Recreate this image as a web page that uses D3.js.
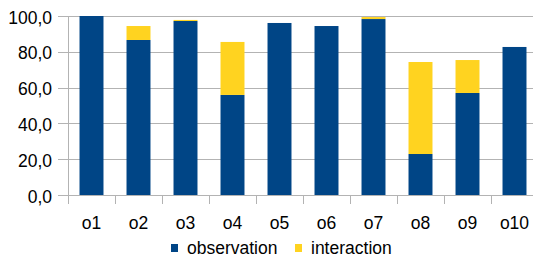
<!DOCTYPE html>
<html><head><meta charset="utf-8">
<script src="https://cdn.jsdelivr.net/npm/d3@7/dist/d3.min.js"></script>
<style>html,body{margin:0;padding:0;background:#fff;}svg{display:block;}</style>
</head><body>
<svg id="c" width="533" height="257"></svg>
<script>
const categories = ["o1","o2","o3","o4","o5","o6","o7","o8","o9","o10"];
const observation = [100, 86.6, 97.2, 55.9, 96.1, 94.4, 98.3, 22.9, 57.0, 82.7];
const interaction = [0, 7.8, 0.6, 29.6, 0, 0, 1.1, 51.4, 18.4, 0];
const yTicks = [0, 20, 40, 60, 80, 100];
const seriesNames = ["observation", "interaction"];
const colors = ["#004586", "#ffd320"];

const svg = d3.select("#c");
const font = "Liberation Sans, Arial, sans-serif";
const fs = 17.5;
const x = d3.scaleBand().domain(categories).range([68, 538]).paddingInner(0.49).paddingOuter(0.245);
const y = d3.scaleLinear().domain([0, 100]).range([195, 16]);

// gridlines
svg.append("g").selectAll("line").data(yTicks).join("line")
  .attr("x1", 58).attr("x2", 533)
  .attr("y1", d => Math.round(y(d)) + 0.5).attr("y2", d => Math.round(y(d)) + 0.5)
  .attr("stroke", "#b3b3b3").attr("stroke-width", 1);

// y tick labels
const fmt = d => d3.format(".1f")(d).replace(".", ",");
svg.append("g").selectAll("text").data(yTicks).join("text")
  .attr("x", 52).attr("y", d => y(d) + 7.5)
  .attr("text-anchor", "end").attr("font-family", font).attr("font-size", fs)
  .attr("fill", "#000").text(fmt);

// bars
const stackData = categories.map((c, i) => ({cat: c, observation: observation[i], interaction: interaction[i]}));
const stack = d3.stack().keys(seriesNames)(stackData);
svg.append("g").selectAll("g").data(stack).join("g")
  .attr("fill", (d, i) => colors[i])
  .selectAll("rect").data(d => d).join("rect")
  .attr("x", d => x(d.data.cat))
  .attr("width", x.bandwidth())
  .attr("y", d => y(d[1]))
  .attr("height", d => Math.max(0, y(d[0]) - y(d[1])));

// axis lines
svg.append("line").attr("x1", 68.5).attr("x2", 68.5).attr("y1", 16).attr("y2", 204)
  .attr("stroke", "#b3b3b3").attr("stroke-width", 1);
// category ticks
const step = x.step();
const tickXs = categories.map((c, i) => 68 + i * step).slice(1);
svg.append("g").selectAll("line").data(tickXs).join("line")
  .attr("x1", d => Math.round(d) + 0.5).attr("x2", d => Math.round(d) + 0.5)
  .attr("y1", 195).attr("y2", 204)
  .attr("stroke", "#b3b3b3").attr("stroke-width", 1);

// category labels
svg.append("g").selectAll("text").data(categories).join("text")
  .attr("x", d => x(d) + x.bandwidth() / 2).attr("y", 229)
  .attr("text-anchor", "middle").attr("font-family", font).attr("font-size", fs)
  .attr("fill", "#000").text(d => d);

// legend
const legendX = [171, 295];
const lg = svg.append("g").selectAll("g").data(seriesNames).join("g");
lg.append("rect").attr("x", (d, i) => legendX[i]).attr("y", 244).attr("width", 7).attr("height", 8)
  .attr("fill", (d, i) => colors[i]);
lg.append("text").attr("x", (d, i) => legendX[i] + 16).attr("y", 254)
  .attr("font-family", font).attr("font-size", fs).attr("fill", "#000").text(d => d);
</script>
</body></html>
